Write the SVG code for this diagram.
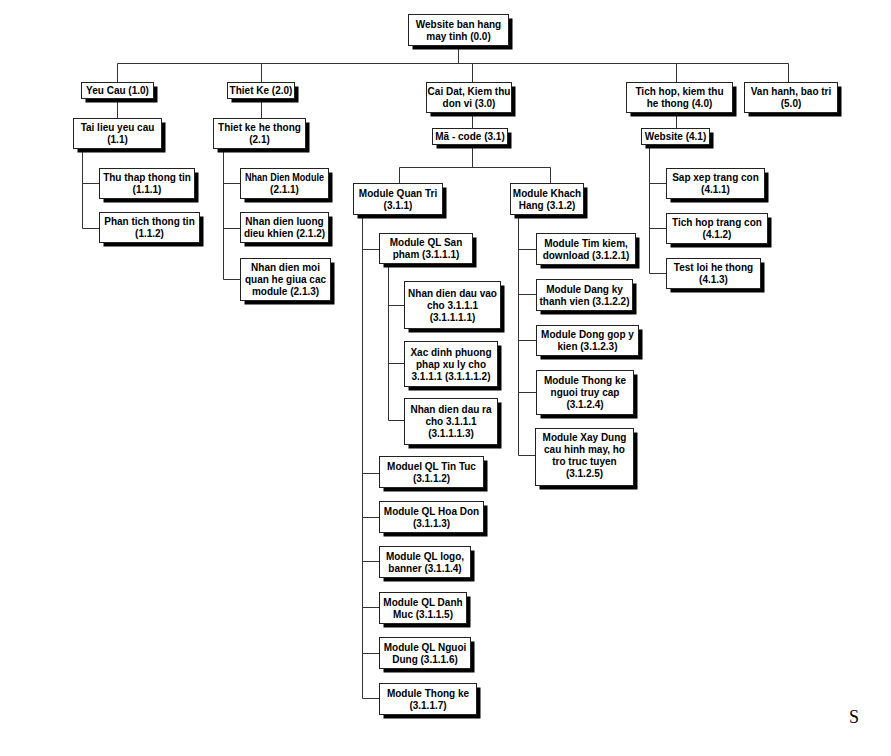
<svg xmlns="http://www.w3.org/2000/svg" width="891" height="756" viewBox="0 0 891 756">
  <style>
    .sh { fill: #000; }
    .bx { fill: #fff; stroke: #222; stroke-width: 1; }
    .t { font-family: "Liberation Sans", Arial, sans-serif; font-size: 10px; font-weight: bold; fill: #000; text-anchor: middle; }
    .wire { fill: none; stroke: #333; stroke-width: 1; }
    .mark { font-family: "Liberation Serif", "Times New Roman", serif; font-size: 18px; fill: #000; }
  </style>
  <rect width="891" height="756" fill="#fff"/>

  <!-- tree connectors -->
  <g id="connectors" class="wire">
    <path d="M458.5 45 V63.5 M117.5 63.5 H788.5 M117.5 63.5 V82 M261.5 63.5 V82 M472.5 63.5 V82 M676.5 63.5 V82 M788.5 63.5 V82"/>
    <path d="M117.5 98 V118 M261.5 98 V118 M472.5 112 V128 M676.5 112 V128"/>
    <path d="M82.5 148 V228.5 H99 M82.5 183.5 H99"/>
    <path d="M223.5 148 V279.5 H240 M223.5 183.5 H240 M223.5 228.5 H240"/>
    <path d="M472.5 144 V167.5 M399.5 183 V167.5 H550.5 V183"/>
    <path d="M362.5 214 V698.5 H379 M362.5 249.5 H379 M362.5 473.5 H379 M362.5 517.5 H379 M362.5 561.5 H379 M362.5 607.5 H379 M362.5 653.5 H379"/>
    <path d="M388.5 263 V420.5 H404 M388.5 305.5 H404 M388.5 363.5 H404"/>
    <path d="M518.5 214 V455.5 H535 M518.5 249.5 H536 M518.5 294.5 H536 M518.5 340.5 H536 M518.5 392.5 H536"/>
    <path d="M649.5 145 V273.5 H666 M649.5 183.5 H666 M649.5 228.5 H666"/>
  </g>

  <!-- level 0 -->
  <g id="n0_0"><rect class="sh" x="412.5" y="18.5" width="100" height="31"/><rect class="bx" x="408.5" y="14.5" width="100" height="31"/>
    <text class="t"><tspan x="458.5" y="27.6">Website ban hang</tspan><tspan x="458.5" y="39.6">may tinh (0.0)</tspan></text></g>

  <!-- level 1 -->
  <g id="n1_0"><rect class="sh" x="85.5" y="86.5" width="72" height="16"/><rect class="bx" x="81.5" y="82.5" width="72" height="16"/>
    <text class="t"><tspan x="117.5" y="94.1">Yeu Cau (1.0)</tspan></text></g>
  <g id="n2_0"><rect class="sh" x="231.5" y="86.5" width="67" height="16"/><rect class="bx" x="227.5" y="82.5" width="67" height="16"/>
    <text class="t"><tspan x="261" y="94.1">Thiet Ke (2.0)</tspan></text></g>
  <g id="n3_0"><rect class="sh" x="430.5" y="86.5" width="85" height="30"/><rect class="bx" x="426.5" y="82.5" width="85" height="30"/>
    <text class="t"><tspan x="469" y="95.1">Cai Dat, Kiem thu</tspan><tspan x="469" y="107.1">don vi (3.0)</tspan></text></g>
  <g id="n4_0"><rect class="sh" x="630.5" y="86.5" width="106" height="30"/><rect class="bx" x="626.5" y="82.5" width="106" height="30"/>
    <text class="t"><tspan x="679.5" y="95.1">Tich hop, kiem thu</tspan><tspan x="679.5" y="107.1">he thong (4.0)</tspan></text></g>
  <g id="n5_0"><rect class="sh" x="748.5" y="86.5" width="93" height="30"/><rect class="bx" x="744.5" y="82.5" width="93" height="30"/>
    <text class="t"><tspan x="791" y="95.1">Van hanh, bao tri</tspan><tspan x="791" y="107.1">(5.0)</tspan></text></g>

  <!-- level 2 -->
  <g id="n1_1"><rect class="sh" x="77.5" y="122.5" width="88" height="30"/><rect class="bx" x="73.5" y="118.5" width="88" height="30"/>
    <text class="t"><tspan x="117.5" y="131.1">Tai lieu yeu cau</tspan><tspan x="117.5" y="143.1">(1.1)</tspan></text></g>
  <g id="n2_1"><rect class="sh" x="217.5" y="122.5" width="92" height="30"/><rect class="bx" x="213.5" y="118.5" width="92" height="30"/>
    <text class="t"><tspan x="259.5" y="131.1">Thiet ke he thong</tspan><tspan x="259.5" y="143.1">(2.1)</tspan></text></g>
  <g id="n3_1"><rect class="sh" x="436.5" y="132.5" width="75" height="16"/><rect class="bx" x="432.5" y="128.5" width="75" height="16"/>
    <text class="t"><tspan x="470" y="140.1">Mã - code (3.1)</tspan></text></g>
  <g id="n4_1"><rect class="sh" x="645.5" y="132.5" width="68" height="16"/><rect class="bx" x="641.5" y="128.5" width="68" height="16"/>
    <text class="t"><tspan x="675.5" y="140.1">Website (4.1)</tspan></text></g>

  <!-- branch 1.1 -->
  <g id="n1_1_1"><rect class="sh" x="103.5" y="172.5" width="95" height="30"/><rect class="bx" x="99.5" y="168.5" width="95" height="30"/>
    <text class="t"><tspan x="147" y="181.1">Thu thap thong tin</tspan><tspan x="147" y="193.1">(1.1.1)</tspan></text></g>
  <g id="n1_1_2"><rect class="sh" x="103.5" y="216.5" width="100" height="30"/><rect class="bx" x="99.5" y="212.5" width="100" height="30"/>
    <text class="t"><tspan x="149.5" y="225.1">Phan tich thong tin</tspan><tspan x="149.5" y="237.1">(1.1.2)</tspan></text></g>

  <!-- branch 2.1 -->
  <g id="n2_1_1"><rect class="sh" x="244.5" y="172.5" width="88" height="30"/><rect class="bx" x="240.5" y="168.5" width="88" height="30"/>
    <text class="t"><tspan x="284.5" y="181.1" textLength="79" lengthAdjust="spacingAndGlyphs">Nhan Dien Module</tspan><tspan x="284.5" y="193.1">(2.1.1)</tspan></text></g>
  <g id="n2_1_2"><rect class="sh" x="244.5" y="216.5" width="88" height="30"/><rect class="bx" x="240.5" y="212.5" width="88" height="30"/>
    <text class="t"><tspan x="284.5" y="225.1">Nhan dien luong</tspan><tspan x="284.5" y="237.1">dieu khien (2.1.2)</tspan></text></g>
  <g id="n2_1_3"><rect class="sh" x="244.5" y="262.5" width="90" height="42"/><rect class="bx" x="240.5" y="258.5" width="90" height="42"/>
    <text class="t"><tspan x="285.5" y="271.1">Nhan dien moi</tspan><tspan x="285.5" y="283.1">quan he giua cac</tspan><tspan x="285.5" y="295.1">module (2.1.3)</tspan></text></g>

  <!-- branch 3.1 -->
  <g id="n3_1_1"><rect class="sh" x="357.5" y="187.5" width="89" height="31"/><rect class="bx" x="353.5" y="183.5" width="89" height="31"/>
    <text class="t"><tspan x="398" y="196.6">Module Quan Tri</tspan><tspan x="398" y="208.6">(3.1.1)</tspan></text></g>
  <g id="n3_1_2"><rect class="sh" x="514.5" y="187.5" width="73" height="31"/><rect class="bx" x="510.5" y="183.5" width="73" height="31"/>
    <text class="t"><tspan x="547" y="196.6">Module Khach</tspan><tspan x="547" y="208.6">Hang (3.1.2)</tspan></text></g>

  <!-- branch 3.1.1 -->
  <g id="n3_1_1_1"><rect class="sh" x="383.5" y="237.5" width="93" height="30"/><rect class="bx" x="379.5" y="233.5" width="93" height="30"/>
    <text class="t"><tspan x="426" y="246.1">Module QL San</tspan><tspan x="426" y="258.1">pham (3.1.1.1)</tspan></text></g>
  <g id="n3_1_1_1_1"><rect class="sh" x="408.5" y="285.5" width="96" height="47"/><rect class="bx" x="404.5" y="281.5" width="96" height="47"/>
    <text class="t"><tspan x="452.5" y="296.6">Nhan dien dau vao</tspan><tspan x="452.5" y="308.6">cho 3.1.1.1</tspan><tspan x="452.5" y="320.6">(3.1.1.1.1)</tspan></text></g>
  <g id="n3_1_1_1_2"><rect class="sh" x="408.5" y="345.5" width="93" height="45"/><rect class="bx" x="404.5" y="341.5" width="93" height="45"/>
    <text class="t"><tspan x="451" y="355.6">Xac dinh phuong</tspan><tspan x="451" y="367.6">phap xu ly cho</tspan><tspan x="451" y="379.6">3.1.1.1 (3.1.1.1.2)</tspan></text></g>
  <g id="n3_1_1_1_3"><rect class="sh" x="408.5" y="402.5" width="93" height="46"/><rect class="bx" x="404.5" y="398.5" width="93" height="46"/>
    <text class="t"><tspan x="451" y="413.1">Nhan dien dau ra</tspan><tspan x="451" y="425.1">cho 3.1.1.1</tspan><tspan x="451" y="437.1">(3.1.1.1.3)</tspan></text></g>
  <g id="n3_1_1_2"><rect class="sh" x="383.5" y="460.5" width="104" height="31"/><rect class="bx" x="379.5" y="456.5" width="104" height="31"/>
    <text class="t"><tspan x="431.5" y="469.6">Moduel QL Tin Tuc</tspan><tspan x="431.5" y="481.6">(3.1.1.2)</tspan></text></g>
  <g id="n3_1_1_3"><rect class="sh" x="383.5" y="505.5" width="104" height="31"/><rect class="bx" x="379.5" y="501.5" width="104" height="31"/>
    <text class="t"><tspan x="431.5" y="514.6">Module QL Hoa Don</tspan><tspan x="431.5" y="526.6">(3.1.1.3)</tspan></text></g>
  <g id="n3_1_1_4"><rect class="sh" x="383.5" y="550.5" width="91" height="31"/><rect class="bx" x="379.5" y="546.5" width="91" height="31"/>
    <text class="t"><tspan x="425" y="559.6">Module QL logo,</tspan><tspan x="425" y="571.6">banner (3.1.1.4)</tspan></text></g>
  <g id="n3_1_1_5"><rect class="sh" x="383.5" y="596.5" width="87" height="31"/><rect class="bx" x="379.5" y="592.5" width="87" height="31"/>
    <text class="t"><tspan x="423" y="605.6">Module QL Danh</tspan><tspan x="423" y="617.6">Muc (3.1.1.5)</tspan></text></g>
  <g id="n3_1_1_6"><rect class="sh" x="383.5" y="641.5" width="91" height="31"/><rect class="bx" x="379.5" y="637.5" width="91" height="31"/>
    <text class="t"><tspan x="425" y="650.6">Module QL Nguoi</tspan><tspan x="425" y="662.6">Dung (3.1.1.6)</tspan></text></g>
  <g id="n3_1_1_7"><rect class="sh" x="383.5" y="687.5" width="97" height="31"/><rect class="bx" x="379.5" y="683.5" width="97" height="31"/>
    <text class="t"><tspan x="428" y="696.6">Module Thong ke</tspan><tspan x="428" y="708.6">(3.1.1.7)</tspan></text></g>

  <!-- branch 3.1.2 -->
  <g id="n3_1_2_1"><rect class="sh" x="540.5" y="237.5" width="99" height="31"/><rect class="bx" x="536.5" y="233.5" width="99" height="31"/>
    <text class="t"><tspan x="586" y="246.6">Module Tim kiem,</tspan><tspan x="586" y="258.6">download (3.1.2.1)</tspan></text></g>
  <g id="n3_1_2_2"><rect class="sh" x="540.5" y="283.5" width="96" height="31"/><rect class="bx" x="536.5" y="279.5" width="96" height="31"/>
    <text class="t"><tspan x="584.5" y="292.6">Module Dang ky</tspan><tspan x="584.5" y="304.6">thanh vien (3.1.2.2)</tspan></text></g>
  <g id="n3_1_2_3"><rect class="sh" x="540.5" y="329.5" width="102" height="30"/><rect class="bx" x="536.5" y="325.5" width="102" height="30"/>
    <text class="t"><tspan x="587.5" y="338.1">Module Dong gop y</tspan><tspan x="587.5" y="350.1">kien (3.1.2.3)</tspan></text></g>
  <g id="n3_1_2_4"><rect class="sh" x="540.5" y="374.5" width="97" height="44"/><rect class="bx" x="536.5" y="370.5" width="97" height="44"/>
    <text class="t"><tspan x="585" y="384.1">Module Thong ke</tspan><tspan x="585" y="396.1">nguoi truy cap</tspan><tspan x="585" y="408.1">(3.1.2.4)</tspan></text></g>
  <g id="n3_1_2_5"><rect class="sh" x="539.5" y="432.5" width="98" height="57"/><rect class="bx" x="535.5" y="428.5" width="98" height="57"/>
    <text class="t"><tspan x="584.5" y="441">Module Xay Dung</tspan><tspan x="584.5" y="453">cau hinh may, ho</tspan><tspan x="584.5" y="465">tro truc tuyen</tspan><tspan x="584.5" y="477">(3.1.2.5)</tspan></text></g>

  <!-- branch 4.1 -->
  <g id="n4_1_1"><rect class="sh" x="670.5" y="172.5" width="98" height="30"/><rect class="bx" x="666.5" y="168.5" width="98" height="30"/>
    <text class="t"><tspan x="715.5" y="181.1">Sap xep trang con</tspan><tspan x="715.5" y="193.1">(4.1.1)</tspan></text></g>
  <g id="n4_1_2"><rect class="sh" x="670.5" y="217.5" width="101" height="30"/><rect class="bx" x="666.5" y="213.5" width="101" height="30"/>
    <text class="t"><tspan x="717" y="226.1">Tich hop trang con</tspan><tspan x="717" y="238.1">(4.1.2)</tspan></text></g>
  <g id="n4_1_3"><rect class="sh" x="670.5" y="262.5" width="94" height="30"/><rect class="bx" x="666.5" y="258.5" width="94" height="30"/>
    <text class="t"><tspan x="713.5" y="271.1">Test loi he thong</tspan><tspan x="713.5" y="283.1">(4.1.3)</tspan></text></g>

  <text class="mark" x="849" y="723">S</text>
</svg>
